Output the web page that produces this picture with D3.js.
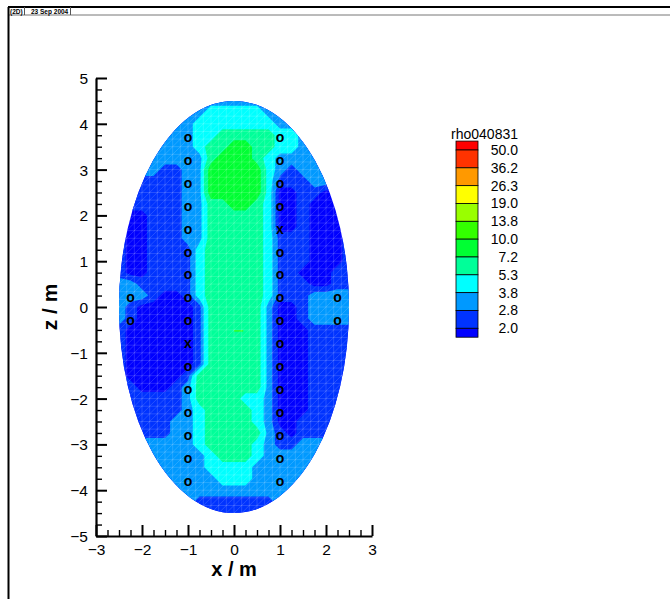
<!DOCTYPE html>
<html><head><meta charset="utf-8">
<script src="https://cdn.jsdelivr.net/npm/d3@7"></script>
<style>body{margin:0;background:#fff}svg{display:block;font-family:"Liberation Sans",Arial,Helvetica,sans-serif}</style>
</head><body><svg id="c" width="670" height="599"></svg>
<script>
// ---------- data ----------
const xTicks = [-3, -2, -1, 0, 1, 2, 3];
const zTicks = [-5, -4, -3, -2, -1, 0, 1, 2, 3, 4, 5];
const levelLabels = ["50.0", "36.2", "26.3", "19.0", "13.8", "10.0", "7.2", "5.3", "3.8", "2.8", "2.0"];
const levelValues = [50.0, 36.2, 26.3, 19.0, 13.8, 10.0, 7.2, 5.3, 3.8, 2.8, 2.0];
// band colours from the highest band (>50) down to the lowest (<2.0)
const bandColors = ["#ff0000", "#ff3300", "#ff9900", "#ffff00", "#99ff00", "#33ff00", "#00ff33", "#00ff99", "#00ffff", "#0099ff", "#0033ff", "#0000ff"];
const legendTitle = "rho040831";
// sample grid (m)
const gridX = [-2.75, -2.5, -2.25, -2, -1.75, -1.5, -1.25, -1, -0.75, -0.5, -0.25, 0, 0.25, 0.5, 0.75, 1, 1.25, 1.5, 1.75, 2, 2.25, 2.5, 2.75];
const gridZ = [4.75, 4.5, 4.25, 4, 3.75, 3.5, 3.25, 3, 2.75, 2.5, 2.25, 2, 1.75, 1.5, 1.25, 1, 0.75, 0.5, 0.25, 0,
  -0.25, -0.5, -0.75, -1, -1.25, -1.5, -1.75, -2, -2.25, -2.5, -2.75, -3, -3.25, -3.5, -3.75, -4, -4.25, -4.5, -4.75];
// estimated rho for each band code (0:<2.0, 1:2.0-2.8, 2:2.8-3.8, 3:3.8-5.3, 4:5.3-7.2, 5:7.2-10)
const bandValue = [1.7, 2.4, 3.3, 4.5, 6.2, 8.5];
// one string per row of gridZ, one code per column of gridX
const rhoRows = [
  "22222222222222222222222",
  "22222222222222222222222",
  "22222222233333222222222",
  "22222222333333322222222",
  "22222222334444433222222",
  "22222222344554433222222",
  "22222222245554322222222",
  "22222112255555321222222",
  "22211112255555311122222",
  "22111112255555300110011",
  "21111112244554300100011",
  "11001112244444300100011",
  "11001112244444300100011",
  "11001112244444311100011",
  "11001111344444311100011",
  "11001111344444311100011",
  "11001111344444311000111",
  "22211111344444311100111",
  "22221001344444311122222",
  "22100000144444200122222",
  "22100000144444200122222",
  "21000000144444200011111",
  "11000000144444200011111",
  "11000000144444200011111",
  "11000000144444200011111",
  "11000001444444200011111",
  "11100012444444200011111",
  "11111112444433200011111",
  "11111112344443200011111",
  "11111122344443200111111",
  "11111122344444210111111",
  "22222222344443211222222",
  "22222222234443222222222",
  "22222222233332222222222",
  "22222222223332222222222",
  "22222222222222222222222",
  "22222222111111122222222",
  "22222221111111112222222",
  "22222221111111112222222"
];
// tiny 7.2-10 sliver visible inside the column (x from, x to, z)
const sliverX = [0.0, 0.2];
const sliverZ = -0.52;
// probe positions
const probeX = [-1,-1,-1,-1,-1,-1,-1,-1,-1,-1,-1,-1,-1,-1,-1,-1, 1,1,1,1,1,1,1,1,1,1,1,1,1,1,1,1, -2.25,-2.25, 2.25,2.25];
const probeZ = [3.7,3.2,2.7,2.2,1.7,1.2,0.7,0.2,-0.3,-0.8,-1.3,-1.8,-2.3,-2.8,-3.3,-3.8,
                3.7,3.2,2.7,2.2,1.7,1.2,0.7,0.2,-0.3,-0.8,-1.3,-1.8,-2.3,-2.8,-3.3,-3.8, 0.2,-0.3, 0.2,-0.3];
const probeSym = ["o","o","o","o","o","o","o","o","o","x","o","o","o","o","o","o",
                  "o","o","o","o","x","o","o","o","o","o","o","o","o","o","o","o", "o","o","o","o"];
const domainA = 2.5, domainB = 4.5; // ellipse semi-axes (m)

// ---------- drawing ----------
const svg = d3.select("#c");
const x = d3.scaleLinear().domain([-3, 3]).range([96, 372]);
const y = d3.scaleLinear().domain([-5, 5]).range([536, 78]);

// frame / header
svg.append("line").attr("x1", 8).attr("x2", 670).attr("y1", 7).attr("y2", 7).attr("stroke", "#000").attr("stroke-width", 2);
svg.append("line").attr("x1", 8).attr("x2", 670).attr("y1", 15).attr("y2", 15).attr("stroke", "#777").attr("stroke-width", 1);
svg.append("line").attr("x1", 8.5).attr("x2", 8.5).attr("y1", 7).attr("y2", 599).attr("stroke", "#000").attr("stroke-width", 2);
[24, 70].forEach(px => svg.append("line").attr("x1", px + 0.5).attr("x2", px + 0.5).attr("y1", 7).attr("y2", 15).attr("stroke", "#555").attr("stroke-width", 1));
svg.append("text").attr("x", 10).attr("y", 13.5).attr("font-size", 6.5).attr("font-weight", "bold").text("(2D)");
svg.append("text").attr("x", 31).attr("y", 13.5).attr("font-size", 6.5).attr("font-weight", "bold").text("23 Sep 2004");

// clip to ellipse
const cx = x(0), cy = y(0), rx = x(domainA) - x(0), ry = y(0) - y(domainB);
svg.append("defs").append("clipPath").attr("id", "ell")
  .append("ellipse").attr("cx", cx).attr("cy", cy).attr("rx", rx).attr("ry", ry);
const plot = svg.append("g").attr("clip-path", "url(#ell)");

const ascColors = bandColors.slice().reverse();
const thresholds = levelValues.slice().reverse();
const nx = gridX.length, nz = gridZ.length;
const values = [];
rhoRows.forEach(r => { for (const ch of r) values.push(bandValue[+ch]); });
const dxg = gridX[1] - gridX[0], dzg = gridZ[1] - gridZ[0];
const proj = d3.geoTransform({ point(u, v) {
  this.stream.point(x(gridX[0] + (u - 0.5) * dxg), y(gridZ[0] + (v - 0.5) * dzg));
}});
const path = d3.geoPath(proj);
plot.append("rect").attr("x", cx - rx - 2).attr("y", cy - ry - 2).attr("width", 2 * rx + 4).attr("height", 2 * ry + 4).attr("fill", ascColors[0]);
const contours = d3.contours().size([nx, nz]).smooth(true).thresholds(thresholds)(values);
plot.selectAll("path.band").data(contours).join("path")
  .attr("class", "band").attr("d", path)
  .attr("fill", (d, i) => ascColors[i + 1]);
plot.append("line").attr("x1", x(sliverX[0])).attr("x2", x(sliverX[1])).attr("y1", y(sliverZ)).attr("y2", y(sliverZ))
  .attr("stroke", ascColors[6]).attr("stroke-width", 1.2);

// mesh overlay
const meshStep = 1 / 6;
const mesh = plot.append("g").attr("stroke", "#fff").attr("stroke-opacity", 0.25).attr("stroke-width", 0.6);
for (let v = -2.5; v <= 2.5 + 1e-9; v += meshStep) mesh.append("line").attr("x1", x(v)).attr("x2", x(v)).attr("y1", y(-4.6)).attr("y2", y(4.6));
for (let v = -4.5; v <= 4.5 + 1e-9; v += meshStep) mesh.append("line").attr("x1", x(-2.6)).attr("x2", x(2.6)).attr("y1", y(v)).attr("y2", y(v));
for (let v = -8; v <= 8 + 1e-9; v += meshStep) mesh.append("line").attr("x1", x(-2.6)).attr("y1", y(v - 2.6)).attr("x2", x(2.6)).attr("y2", y(v + 2.6));

// probes
svg.append("g").selectAll("text").data(probeX.map((d, i) => ({ x: d, z: probeZ[i], s: probeSym[i] }))).join("text")
  .attr("x", d => x(d.x)).attr("y", d => y(d.z) + 4.5)
  .attr("text-anchor", "middle").attr("font-size", 14).attr("font-weight", "bold").attr("fill", "#000")
  .text(d => d.s);

// axes
const minorX = d3.range(-3, 3.001, 0.25).filter(v => Math.abs(v - Math.round(v)) > 1e-6);
const minorZ = d3.range(-5, 5.001, 0.25).filter(v => Math.abs(v - Math.round(v)) > 1e-6);
const ax = svg.append("g").attr("transform", `translate(0,${y(-5)})`)
  .call(d3.axisBottom(x).tickValues(xTicks).tickSize(-11).tickSizeOuter(0).tickPadding(8).tickFormat(d3.format("d")));
const ay = svg.append("g").attr("transform", `translate(${x(-3)},0)`)
  .call(d3.axisLeft(y).tickValues(zTicks).tickSize(-11).tickSizeOuter(0).tickPadding(8).tickFormat(d3.format("d")));
const mx = svg.append("g").attr("transform", `translate(0,${y(-5)})`)
  .call(d3.axisBottom(x).tickValues(minorX).tickSize(-6).tickSizeOuter(0).tickFormat(""));
const my = svg.append("g").attr("transform", `translate(${x(-3)},0)`)
  .call(d3.axisLeft(y).tickValues(minorZ).tickSize(-6).tickSizeOuter(0).tickFormat(""));
[ax, ay].forEach(g => { g.select(".domain").attr("stroke-width", 2.2); g.selectAll(".tick line").attr("stroke-width", 2); g.selectAll("text").attr("font-size", 15.5).attr("font-family", "Liberation Sans, Arial, sans-serif").attr("fill", "#000"); });
[mx, my].forEach(g => { g.select(".domain").remove(); g.selectAll(".tick line").attr("stroke-width", 1.4); });
ay.selectAll("text").attr("dy", "0.36em");

svg.append("text").attr("x", x(0)).attr("y", 576).attr("text-anchor", "middle").attr("font-size", 20).attr("font-weight", "bold").text("x / m");
svg.append("text").attr("transform", `translate(57,${y(0)}) rotate(-90)`).attr("text-anchor", "middle").attr("font-size", 21).attr("font-weight", "bold").text("z / m");

// legend
const lg = svg.append("g");
const ly = d3.scaleLinear().domain([0, levelValues.length - 1]).range([150, 328.3]);
const step = ly(1) - ly(0);
lg.append("text").attr("x", 518).attr("y", 139).attr("text-anchor", "end").attr("font-size", 14).text(legendTitle);
bandColors.forEach((c, i) => {
  const top = i === 0 ? ly(0) - step / 2 : ly(i - 1);
  const bot = i === bandColors.length - 1 ? ly(levelValues.length - 1) + step / 2 : ly(i);
  lg.append("rect").attr("x", 456).attr("y", top).attr("width", 22).attr("height", bot - top)
    .attr("fill", c).attr("stroke", "#000").attr("stroke-width", 0.8);
});
levelLabels.forEach((t, i) => {
  lg.append("text").attr("x", 518).attr("y", ly(i) + 5).attr("text-anchor", "end").attr("font-size", 14).text(t);
});
</script>
</body></html>
